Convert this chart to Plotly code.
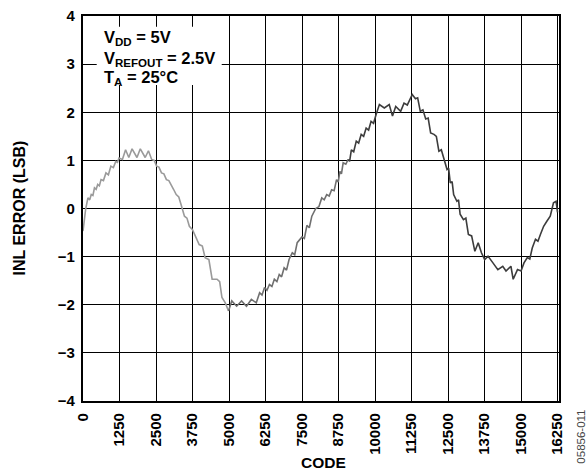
import plotly.graph_objects as go

# ---- data (code, INL in LSB) ----
codes = [0, 90, 168, 230, 282, 340, 393, 450, 504, 560, 618, 700, 786, 870, 954, 1040,
         1122, 1180, 1233, 1350, 1458, 1569, 1680, 1848, 1962, 2130, 2241, 2352, 2440,
         2520, 2600, 2688, 2770, 2856, 2940, 3024, 3100, 3192, 3280, 3360, 3474, 3560,
         3642, 3750, 3880, 3978, 4086, 4180, 4311, 4422, 4590, 4680, 4758, 4872, 4983,
         5094, 5262, 5430, 5598, 5766, 5934, 6048, 6130, 6216, 6300, 6384, 6470, 6552,
         6640, 6720, 6800, 6888, 6970, 7056, 7167, 7250, 7335, 7500, 7580, 7668, 7750,
         7836, 7970, 8080, 8176, 8260, 8345, 8430, 8514, 8600, 8682, 8740, 8797, 8850,
         8909, 9000, 9078, 9130, 9189, 9270, 9358, 9440, 9527, 9610, 9696, 9780, 9865,
         9950, 10034, 10149, 10318, 10486, 10598, 10709, 10878, 10993, 11105, 11274,
         11385, 11460, 11550, 11640, 11736, 11820, 11904, 12019, 12100, 12187, 12270,
         12355, 12466, 12520, 12577, 12640, 12692, 12803, 12860, 12914, 13028, 13110,
         13197, 13308, 13419, 13533, 13644, 13755, 13869, 14038, 14206, 14374, 14485,
         14653, 14731, 14879, 15000, 15101, 15215, 15300, 15384, 15495, 15580, 15663,
         15774, 15889, 16000, 16111, 16200, 16250]
inl = [-0.47, -0.02, 0.22, 0.18, 0.29, 0.27, 0.43, 0.40, 0.50, 0.47, 0.60, 0.58, 0.74, 0.70, 0.88, 0.85,
       0.98, 0.96, 1.05, 1.02, 1.22, 1.06, 1.24, 1.06, 1.24, 1.06, 1.20, 1.02, 1.00,
       0.88, 0.86, 0.74, 0.72, 0.60, 0.58, 0.50, 0.40, 0.29, 0.24, 0.08, -0.16, -0.20,
       -0.37, -0.44, -0.62, -0.75, -0.78, -1.02, -1.06, -1.47, -1.47, -1.52, -1.85, -1.96, -2.13,
       -1.92, -2.03, -1.92, -2.03, -1.89, -1.96, -1.75, -1.80, -1.64, -1.70, -1.58, -1.62, -1.47,
       -1.52, -1.37, -1.42, -1.23, -1.28, -1.06, -0.92, -0.96, -0.71, -0.59, -0.62, -0.35, -0.40,
       -0.16, 0.00, 0.04, 0.22, 0.18, 0.29, 0.26, 0.39, 0.37, 0.60, 0.55, 0.77, 0.72,
       0.95, 0.92, 1.02, 0.98, 1.22, 1.18, 1.40, 1.36, 1.54, 1.50, 1.67, 1.63, 1.81,
       1.77, 1.95, 2.16, 2.09, 2.16, 1.92, 2.12, 2.02, 2.19, 2.15, 2.37,
       2.28, 2.30, 2.02, 2.05, 1.86, 1.88, 1.57, 1.54, 1.50, 1.19, 1.22,
       1.05, 0.81, 0.84, 0.53, 0.56, 0.29, 0.15, 0.18, -0.12, -0.23, -0.20,
       -0.54, -0.57, -0.89, -0.71, -0.92, -1.06, -0.99, -1.13, -1.27, -1.20, -1.30,
       -1.20, -1.47, -1.27, -1.30, -1.13, -1.02, -1.05, -0.82, -0.64, -0.68, -0.54,
       -0.37, -0.26, -0.16, 0.12, 0.15, -0.08]

x_ticks = [0, 1250, 2500, 3750, 5000, 6250, 7500, 8750, 10000, 11250, 12500, 13750, 15000, 16250]
x_tick_labels = [str(v) for v in x_ticks]
y_ticks = [-4, -3, -2, -1, 0, 1, 2, 3, 4]
y_tick_labels = ["\u22124", "\u22123", "\u22122", "\u22121", "0", "1", "2", "3", "4"]

# colour segments (the trace darkens from left to right)
segment_breaks = [0, 5000, 9100, 16250]
segment_colors = ["#9a9a9a", "#707070", "#3c3c3c"]

FONT = "Liberation Sans, Arial, Helvetica, sans-serif"

fig = go.Figure()
for i, col in enumerate(segment_colors):
    lo, hi = segment_breaks[i], segment_breaks[i + 1]
    idx = [k for k, c in enumerate(codes) if lo <= c <= hi]
    if idx[0] > 0:
        idx = [idx[0] - 1] + idx
    xs = [codes[k] for k in idx]
    ys = [inl[k] for k in idx]
    fig.add_trace(go.Scatter(x=xs, y=ys, mode="lines",
                             line=dict(color=col, width=1.6),
                             showlegend=False, hoverinfo="skip"))

fig.update_layout(
    width=587, height=473,
    margin=dict(l=83, r=28, t=16, b=72, autoexpand=False),
    paper_bgcolor="white", plot_bgcolor="white",
    showlegend=False,
    font=dict(family=FONT, color="black"),
)

fig.update_xaxes(
    range=[0, 16300], tickvals=x_ticks,
    ticktext=["<b>%s</b>" % t for t in x_tick_labels], tickangle=-90,
    tickfont=dict(family=FONT, size=15, color="black"),
    showgrid=True, gridcolor="#000000", gridwidth=1.4,
    showline=True, linecolor="#000000", linewidth=2.2, mirror=True,
    zeroline=False, ticks="outside", ticklen=4, tickcolor="white",
    automargin=False,
)
fig.update_yaxes(
    range=[-4, 4], tickvals=y_ticks,
    ticktext=["<b>%s</b>" % t for t in y_tick_labels],
    tickfont=dict(family=FONT, size=15, color="black"),
    showgrid=True, gridcolor="#000000", gridwidth=1.4,
    showline=True, linecolor="#000000", linewidth=2.2, mirror=True,
    zeroline=False, ticks="outside", ticklen=3, tickcolor="white",
    automargin=False,
)

# white box behind the conditions text
fig.add_shape(type="rect", xref="paper", yref="paper",
              x0=0.0288, x1=0.2914, y0=0.8208, y1=0.9722,
              fillcolor="white", line=dict(width=0), layer="above")

box_font = dict(family=FONT, size=16.5, color="black")
fig.add_annotation(xref="paper", yref="paper", x=0.039, y=0.944, xanchor="left", yanchor="middle",
                   text="<b>V<sub>DD</sub> = 5V</b>", showarrow=False, font=box_font)
fig.add_annotation(xref="paper", yref="paper", x=0.039, y=0.889, xanchor="left", yanchor="middle",
                   text="<b>V<sub>REFOUT</sub> = 2.5V</b>", showarrow=False, font=box_font)
fig.add_annotation(xref="paper", yref="paper", x=0.039, y=0.840, xanchor="left", yanchor="middle",
                   text="<b>T<sub>A</sub> = 25°C</b>", showarrow=False, font=box_font)

# axis titles
fig.add_annotation(xref="paper", yref="paper", x=-0.1324, y=0.5026, textangle=-90,
                   xanchor="center", yanchor="middle",
                   text="<b>INL ERROR (LSB)</b>", showarrow=False,
                   font=dict(family=FONT, size=16, color="black"))
fig.add_annotation(xref="paper", yref="paper", x=0.506, y=-0.161,
                   xanchor="center", yanchor="middle",
                   text="<b>CODE</b>", showarrow=False,
                   font=dict(family=FONT, size=15.5, color="black"))
fig.add_annotation(xref="paper", yref="paper", x=1.0455, y=-0.0935, textangle=-90,
                   xanchor="center", yanchor="middle",
                   text="05856-011", showarrow=False,
                   font=dict(family=FONT, size=11.5, color="#444444"))

fig.write_html("out.html", config={"displayModeBar": False},
               post_script="document.body.style.margin='0px';")
